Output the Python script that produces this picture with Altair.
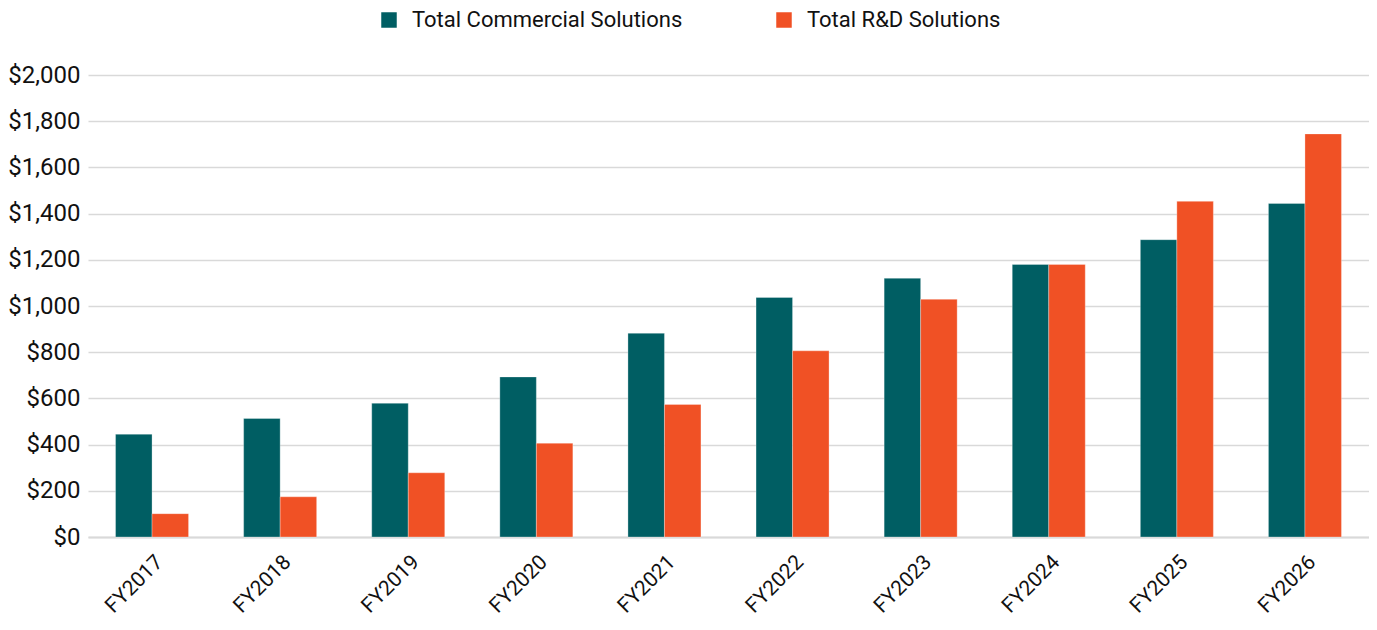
import altair as alt
import pandas as pd

years = ["FY2017", "FY2018", "FY2019", "FY2020", "FY2021",
         "FY2022", "FY2023", "FY2024", "FY2025", "FY2026"]
commercial = [445, 513, 579, 693, 882, 1037, 1120, 1180, 1287, 1444]
rnd = [101, 174, 278, 406, 574, 806, 1029, 1180, 1453, 1745]
series_names = ["Total Commercial Solutions", "Total R&D Solutions"]
series_colors = ["#005E63", "#F05125"]

rows = []
for y, c, r in zip(years, commercial, rnd):
    rows.append({"year": y, "series": series_names[0], "value": c})
    rows.append({"year": y, "series": series_names[1], "value": r})
df = pd.DataFrame(rows)

FONT = "Roboto"

chart = alt.Chart(df).mark_bar(stroke="white", strokeWidth=0.6, strokeOpacity=0.5).encode(
    x=alt.X("year:N", sort=years, title=None,
            scale=alt.Scale(paddingInner=0.43, paddingOuter=0.215),
            axis=alt.Axis(labelAngle=-45, ticks=False, domain=True, domainColor="#D9D9D9",
                          domainWidth=2, labelFontSize=21, labelColor="#111111",
                          labelFont=FONT, labelPadding=14)),
    xOffset=alt.XOffset("series:N", sort=series_names, scale=alt.Scale(paddingInner=0, paddingOuter=0)),
    y=alt.Y("value:Q", title=None,
            scale=alt.Scale(domain=[0, 2000], nice=False),
            axis=alt.Axis(values=list(range(0, 2001, 200)), format="$,.0f", ticks=False,
                          domain=False, gridColor="#D9D9D9", gridWidth=1.3,
                          labelFontSize=24, labelColor="#111111", labelFont=FONT,
                          labelPadding=8)),
    color=alt.Color("series:N", sort=series_names,
                    scale=alt.Scale(domain=series_names, range=series_colors),
                    legend=alt.Legend(title=None, orient="none", direction="horizontal",
                                      legendX=290, legendY=-66,
                                      symbolType="square", symbolSize=240,
                                      symbolStrokeWidth=0, labelFontSize=22,
                                      labelFont=FONT, labelColor="#111111",
                                      labelLimit=500,
                                      columnPadding=90, labelOffset=12)),
).properties(
    width=1281, height=462,
    background="white",
    autosize=alt.AutoSizeParams(type="none"),
    padding={"left": 80, "top": 67, "right": 0, "bottom": 85},
).configure_view(strokeWidth=0)

chart.save("out.html", embed_options={"renderer": "svg", "actions": False})
